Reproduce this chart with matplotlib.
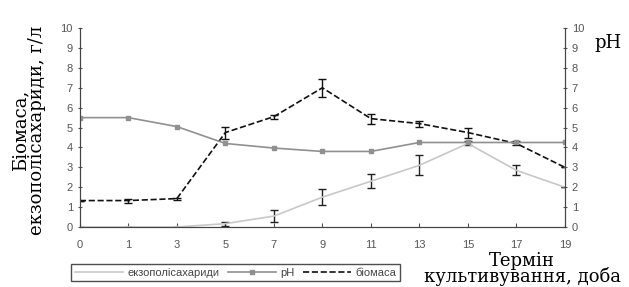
import matplotlib.pyplot as plt
from matplotlib.lines import Line2D
import numpy as np

days = ["0", "1", "3", "5", "7", "9", "11", "13", "15", "17", "19"]
exo = [0, 0, 0, 0.17, 0.55, 1.5, 2.3, 3.1, 4.2, 2.85, 2.0]
exo_err = [0, 0, 0, 0.1, 0.3, 0.4, 0.35, 0.5, 0.1, 0.25, 0]
ph = [5.5, 5.5, 5.05, 4.2, 3.97, 3.8, 3.8, 4.25, 4.25, 4.25, 4.25]
biomass = [1.33, 1.33, 1.43, 4.75, 5.55, 7.0, 5.45, 5.2, 4.75, 4.2, 3.0]
bio_err = [0, 0.1, 0.05, 0.3, 0.1, 0.45, 0.25, 0.15, 0.25, 0.1, 0]

x = np.arange(len(days))
sans = "Liberation Sans"
serif = "DejaVu Serif"
tick_col = "#555555"

fig = plt.figure(figsize=(6.29, 2.87), dpi=100)
ax = fig.add_axes([0.127, 0.209, 0.771, 0.693])
ax2 = ax.twinx()

ax.errorbar(x, exo, yerr=exo_err, color="#c8c8c8", lw=1.2, ecolor="#222222",
            elinewidth=1, capsize=3)
ax2.plot(x, ph, color="#909090", lw=1.2, marker="s", ms=3.5)
ax.errorbar(x, biomass, yerr=bio_err, color="#111111", lw=1.2, ls="--",
            ecolor="#111111", elinewidth=1, capsize=3)

for a in (ax, ax2):
    a.set_ylim(0, 10)
    a.set_yticks(range(11))
    a.set_xlim(0, 10)
    a.spines["top"].set_visible(False)
    for s in a.spines.values():
        s.set_color("#444444")
ax.set_xticks(x)
ax.set_xticklabels(days)
ax.tick_params(axis="x", colors=tick_col, labelsize=8, length=3, direction="in", pad=9)
ax.tick_params(axis="y", colors=tick_col, labelsize=8, length=3, direction="inout")
ax2.tick_params(axis="y", colors=tick_col, labelsize=8, length=3, direction="inout")
for lab in ax.get_xticklabels() + ax.get_yticklabels() + ax2.get_yticklabels():
    lab.set_fontfamily(sans)

fig.text(0.046, 0.545, "Біомаса,\nекзополісахариди, г/л", rotation=90, ha="center",
         va="center", family=serif, fontsize=13, linespacing=0.9)
fig.text(0.945, 0.85, "pH", family=serif, fontsize=13, ha="left", va="center")
fig.text(0.83, 0.002, "Термін\nкультивування, доба", family=serif, fontsize=13,
         ha="center", va="bottom", linespacing=0.85)

handles = [Line2D([], [], color="#c8c8c8", lw=1.2),
           Line2D([], [], color="#909090", lw=1.2, marker="s", ms=3.5),
           Line2D([], [], color="#111111", lw=1.2, ls="--")]
leg = fig.legend(handles, ["екзополісахариди", "pH", "біомаса"], ncol=3,
                 loc="lower left", bbox_to_anchor=(0.104, 0.0), frameon=True,
                 fancybox=False, edgecolor="#222222", prop={"family": sans, "size": 8},
                 handlelength=4.3, columnspacing=0.8, handletextpad=0.4, borderpad=0.35)
leg.get_frame().set_linewidth(1.0)
for t in leg.get_texts():
    t.set_color("#444444")

fig.savefig("out.png", dpi=100)
